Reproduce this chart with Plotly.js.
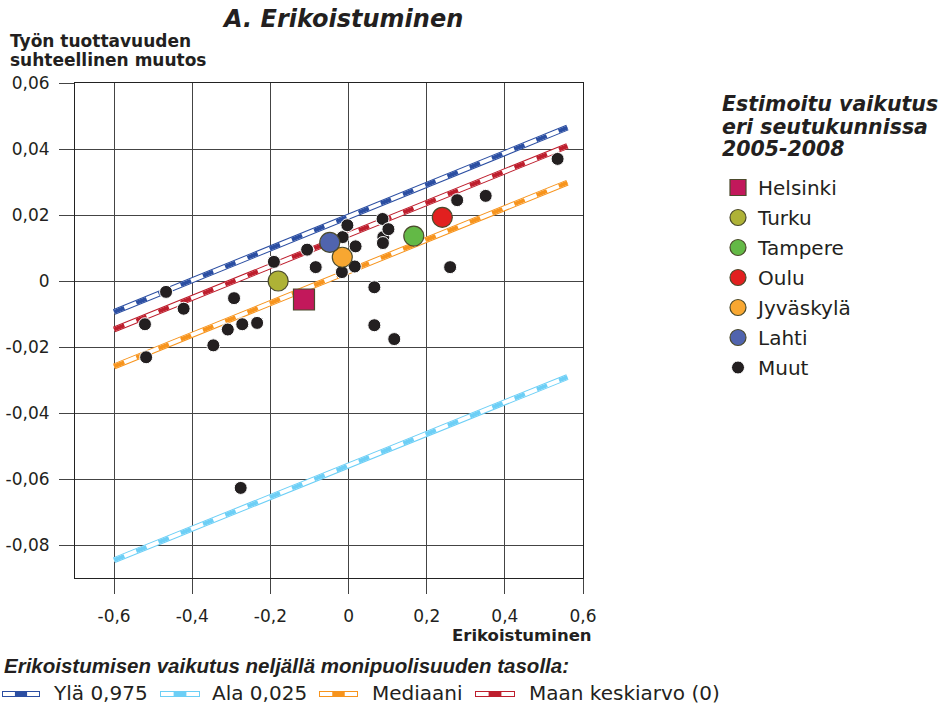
<!DOCTYPE html>
<html>
<head>
<meta charset="utf-8">
<script src="https://cdn.plot.ly/plotly-3.0.1.min.js"></script>
<style>
  html, body { margin: 0; padding: 0; background: #ffffff; }
  #chart { width: 948px; height: 708px; }
</style>
</head>
<body>
<div id="chart"></div>
<script>
// Erikoistumisen vaikutus työn tuottavuuden suhteelliseen muutokseen

// Regression lines at four diversity levels (x endpoints, y endpoints)
const lineX = [-0.6, 0.56];
const upperY = [-0.0094, 0.0465];   // Ylä 0,975
const lowerY = [-0.0846, -0.0291];  // Ala 0,025
const medianY = [-0.0259, 0.0298];  // Mediaani
const meanY = [-0.0147, 0.0409];    // Maan keskiarvo (0)
const lineNames = ['Ylä 0,975', 'Ala 0,025', 'Mediaani', 'Maan keskiarvo (0)'];

// Named regions
const cityNames = ['Helsinki', 'Turku', 'Tampere', 'Oulu', 'Jyväskylä', 'Lahti'];
const cityX = [-0.114, -0.180, 0.167, 0.240, -0.016, -0.048];
const cityY = [-0.0056, 0.0000, 0.0136, 0.0193, 0.0072, 0.0117];

// Other regions (Muut)
const otherName = 'Muut';
const otherX = [0.089, -0.521, -0.518, -0.467, -0.422, -0.346, -0.309, -0.293, -0.272, -0.234,
                -0.276, -0.191, -0.106, -0.084, -0.017, -0.015, -0.003, 0.018, 0.016, 0.066,
                0.066, 0.117, 0.087, 0.102, 0.088, 0.260, 0.278, 0.351, 0.535];
const otherY = [0.0133, -0.0131, -0.0231, -0.0033, -0.0084, -0.0195, -0.0147, -0.0052, -0.0131, -0.0127,
                -0.0627, 0.0058, 0.0095, 0.0042, 0.0027, 0.0133, 0.0169, 0.0105, 0.0044, -0.0019,
                -0.0134, -0.0176, 0.0188, 0.0157, 0.0115, 0.0042, 0.0245, 0.0258, 0.0370];

// Axis ticks
const xTickVals = [-0.6, -0.4, -0.2, 0, 0.2, 0.4, 0.6];
const xTickText = ['-0,6', '-0,4', '-0,2', '0', '0,2', '0,4', '0,6'];
const yTickVals = [0.06, 0.04, 0.02, 0, -0.02, -0.04, -0.06, -0.08];
const yTickText = ['0,06', '0,04', '0,02', '0', '-0,02', '-0,04', '-0,06', '-0,08'];

// Texts
const chartTitle = 'A. Erikoistuminen';
const yTitleLines = ['Työn tuottavuuden', 'suhteellinen muutos'];
const xTitle = 'Erikoistuminen';
const legendTitleLines = ['Estimoitu vaikutus', 'eri seutukunnissa', '2005-2008'];
const lineLegendTitle = 'Erikoistumisen vaikutus neljällä monipuolisuuden tasolla:';

// ---- styles ----
const lineColors = ['#2b4ea2', '#6dcff6', '#f7941d', '#be1e2d'];
const lineSeries = [upperY, lowerY, medianY, meanY];
const cityColors = ['#c2185b', '#aeb236', '#63b946', '#e2201f', '#f8a731', '#5064ae'];
const citySymbols = ['square', 'circle', 'circle', 'circle', 'circle', 'circle'];
const citySizes = [21, 20, 20, 20, 20, 20];
const textColor = '#231f20';
const baseFont = 'DejaVu Sans, Verdana, sans-serif';

const W = 948, H = 708;
const M = { l: 75, r: 365, t: 83, b: 130 };
const PW = W - M.l - M.r, PH = H - M.t - M.b;
const px = x => (x - M.l) / PW;
const py = y => (H - M.b - y) / PH;

const traces = [];

// Each regression line: coloured rim, white core and coloured dashes
lineSeries.forEach((ys, i) => {
  const common = { x: lineX, y: ys, mode: 'lines', showlegend: false, hoverinfo: 'skip', type: 'scatter' };
  traces.push(Object.assign({}, common, { line: { color: lineColors[i], width: 6 } }));
  traces.push(Object.assign({}, common, { line: { color: '#ffffff', width: 4 } }));
  traces.push(Object.assign({}, common, { line: { color: lineColors[i], width: 4, dash: '11px,13px' } }));
});

traces.push({
  type: 'scatter', mode: 'markers', name: otherName, x: otherX, y: otherY,
  legendrank: 7, legendgroup: 'g7',
  marker: { color: textColor, size: 13, line: { color: '#ffffff', width: 1 } }
});

cityNames.forEach((name, i) => {
  traces.push({
    type: 'scatter', mode: 'markers', name: name, x: [cityX[i]], y: [cityY[i]],
    legendrank: i + 1, legendgroup: 'g' + (i + 1),
    marker: { color: cityColors[i], symbol: citySymbols[i], size: citySizes[i],
              line: { color: '#4b4a2c', width: 1.2 } }
  });
});

const annotations = [];
const ann = (text, x, y, opts) => annotations.push(Object.assign({
  text: text, xref: 'paper', yref: 'paper', x: px(x), y: py(y),
  showarrow: false, xanchor: 'left', yanchor: 'middle',
  font: { family: baseFont, size: 17, color: textColor }
}, opts));

ann(chartTitle, 342, 19.5, { xanchor: 'center',
  font: { family: baseFont, size: 24, color: textColor, weight: 'bold', style: 'italic' } });
ann(yTitleLines[0], 8, 41, { font: { family: baseFont, size: 17, color: textColor, weight: 'bold' } });
ann(yTitleLines[1], 8, 59.5, { font: { family: baseFont, size: 17, color: textColor, weight: 'bold' } });
ann(xTitle, 594, 635, { xanchor: 'right', font: { family: baseFont, size: 16.5, color: textColor, weight: 'bold' } });
legendTitleLines.forEach((t, i) => ann(t, 720, 104.5 + i * 22, {
  font: { family: baseFont, size: 20.5, color: textColor, weight: 'bold', style: 'italic' } }));
ann(lineLegendTitle, 2, 665, {
  font: { family: 'Liberation Sans, Arial, sans-serif', size: 20.5, color: textColor, weight: 'bold', style: 'italic' } });

// Line legend along the bottom
const symX = [[2, 40], [160, 200], [319, 358], [475, 515]];
const labelX = [51, 210, 370, 527];
const symY = 694;
const shapes = [];
lineNames.forEach((name, i) => {
  const [a, b] = symX[i];
  const mid = (a + b) / 2, half = (b - a) * 0.16;
  shapes.push({ type: 'line', xref: 'paper', yref: 'paper', x0: px(a), x1: px(b), y0: py(symY), y1: py(symY),
                line: { color: lineColors[i], width: 6 } });
  shapes.push({ type: 'line', xref: 'paper', yref: 'paper', x0: px(a + 1), x1: px(b - 1), y0: py(symY), y1: py(symY),
                line: { color: '#ffffff', width: 4 } });
  shapes.push({ type: 'line', xref: 'paper', yref: 'paper', x0: px(mid - half), x1: px(mid + half), y0: py(symY), y1: py(symY),
                line: { color: lineColors[i], width: 4 } });
  ann(name, labelX[i], 693, { font: { family: baseFont, size: 20, color: textColor } });
});

const axisCommon = {
  showgrid: true, gridcolor: '#444444', gridwidth: 1,
  zeroline: false, showline: true, mirror: true, linecolor: '#222222', linewidth: 1,
  ticks: 'outside', ticklen: 15, tickwidth: 1, tickcolor: '#444444',
  tickfont: { family: baseFont, size: 17, color: textColor },
  tickmode: 'array'
};

const layout = {
  width: W, height: H,
  margin: M,
  paper_bgcolor: '#ffffff', plot_bgcolor: '#ffffff',
  showlegend: true,
  legend: {
    x: px(718), y: py(168), xanchor: 'left', yanchor: 'top',
    bgcolor: 'rgba(0,0,0,0)', borderwidth: 0,
    font: { family: baseFont, size: 20, color: textColor },
    traceorder: 'grouped', tracegroupgap: 1, itemsizing: 'trace'
  },
  xaxis: Object.assign({}, axisCommon, { range: [-0.7, 0.6], tickvals: xTickVals, ticktext: xTickText,
                                         ticklabelstandoff: 8 }),
  yaxis: Object.assign({}, axisCommon, { range: [-0.09, 0.06], tickvals: yTickVals, ticktext: yTickText,
                                         ticklabelstandoff: 6 }),
  annotations: annotations,
  shapes: shapes
};

Plotly.newPlot('chart', traces, layout, { staticPlot: true, displayModeBar: false });
</script>
</body>
</html>
